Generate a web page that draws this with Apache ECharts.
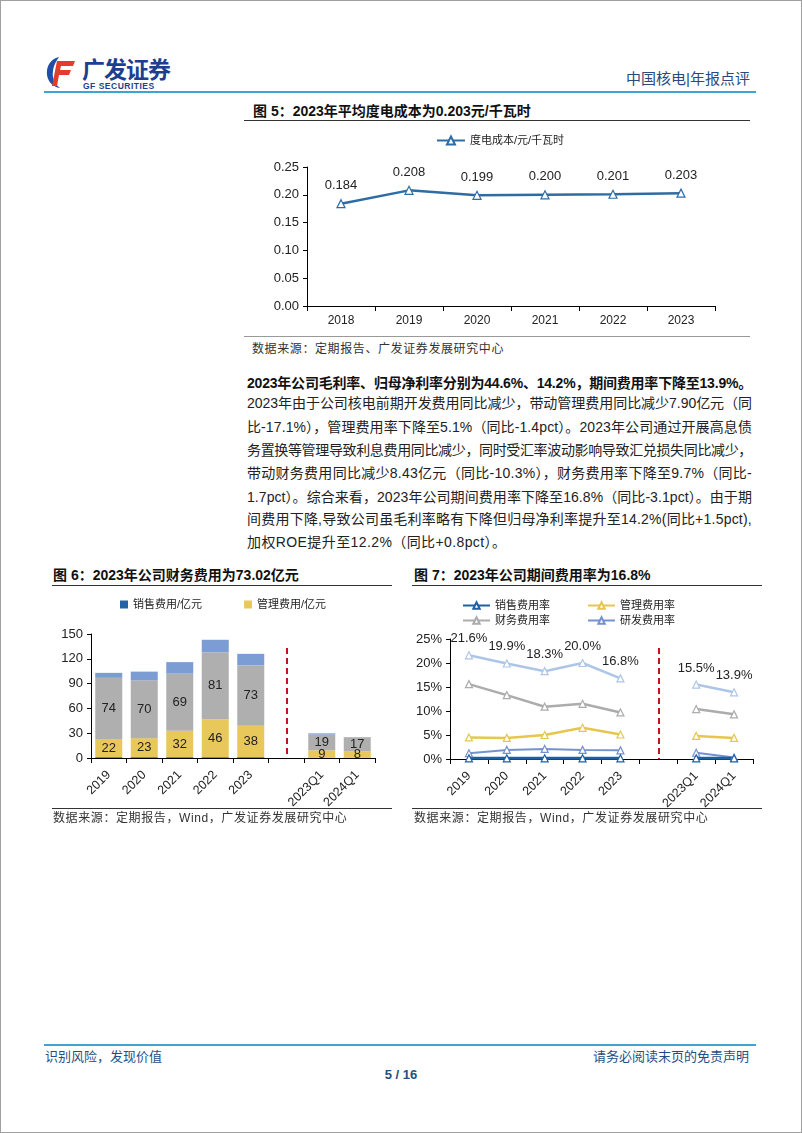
<!DOCTYPE html>
<html><head><meta charset="utf-8">
<script src="https://cdn.jsdelivr.net/npm/echarts@6/dist/echarts.min.js"></script>
<style>
body{margin:0;width:802px;height:1133px;position:relative;background:#fff;font-family:"Liberation Sans","Noto Sans CJK SC",sans-serif;color:#111;overflow:hidden}
.abs{position:absolute;white-space:nowrap}
.frame{position:absolute;left:0;top:0;width:800px;height:1131px;border:1px solid #a0a0a0;pointer-events:none}
.hl{position:absolute;height:0}
.ttl{font-weight:bold;font-size:14px;color:#111;line-height:16px}
.src{font-size:12px;color:#333;line-height:14px;letter-spacing:0.6px}
.pl{position:absolute;left:247px;font-size:14px;line-height:18px;color:#222;white-space:nowrap}
.chart{position:absolute}
</style></head>
<body>
<div class="frame"></div>
<!-- header -->
<svg class="abs" style="left:45px;top:55px" width="32" height="34" viewBox="0 0 32 34">
  <path d="M14 2 C5 4 1 12 2 20 C3 27 8 32 15 33 C9 29 7 22 8 16 C9 9 12 5 14 2 Z" fill="#1e4fa8"/>
  <path d="M12 6 L30 6 L28 11 L16 11 L15 15 L26 15 L24 20 L14 20 L12 31 L7 31 Z" fill="#e53b2a"/>
</svg>
<div class="abs" style="left:82px;top:58px;font-size:23px;font-weight:bold;color:#1d3f8f;letter-spacing:-1px;line-height:24px">广发证券</div>
<div class="abs" style="left:83px;top:82px;font-size:8.5px;font-weight:bold;color:#1d3f8f;letter-spacing:0.5px;line-height:9px">GF SECURITIES</div>
<div class="abs" style="right:52px;top:70px;font-size:15px;color:#2a4a7c;line-height:18px">中国核电|年报点评</div>
<div class="hl" style="left:44px;top:91px;width:712px;border-top:2px solid #3fa3d4"></div>

<!-- figure 5 -->
<div class="abs ttl" style="left:253px;top:103px">图 5：2023年平均度电成本为0.203元/千瓦时</div>
<div class="hl" style="left:244px;top:120px;width:506px;border-top:1px solid #333"></div>
<div id="c5" class="chart" style="left:240px;top:125px;width:520px;height:210px"></div>
<div class="hl" style="left:244px;top:336px;width:506px;border-top:1px solid #999"></div>
<div class="abs src" style="left:252px;top:342px">数据来源：定期报告、广发证券发展研究中心</div>

<!-- paragraph -->
<div class="pl fit" style="top:374px;font-weight:bold;color:#111">2023年公司毛利率、归母净利率分别为44.6%、14.2%，期间费用率下降至13.9%。</div>
<div class="pl fit" style="top:394px">2023年由于公司核电前期开发费用同比减少，带动管理费用同比减少7.90亿元（同</div>
<div class="pl fit" style="top:418px">比-17.1%），管理费用率下降至5.1%（同比-1.4pct）。2023年公司通过开展高息债</div>
<div class="pl fit" style="top:441px">务置换等管理导致利息费用同比减少，同时受汇率波动影响导致汇兑损失同比减少，</div>
<div class="pl fit" style="top:464px">带动财务费用同比减少8.43亿元（同比-10.3%），财务费用率下降至9.7%（同比-</div>
<div class="pl fit" style="top:488px">1.7pct）。综合来看，2023年公司期间费用率下降至16.8%（同比-3.1pct）。由于期</div>
<div class="pl fit" style="top:510px">间费用下降,导致公司虽毛利率略有下降但归母净利率提升至14.2%(同比+1.5pct),</div>
<div class="pl" style="top:533px;letter-spacing:0.4px">加权ROE提升至12.2%（同比+0.8pct）。</div>

<!-- figure 6 -->
<div class="abs ttl" style="left:53px;top:567px">图 6：2023年公司财务费用为73.02亿元</div>
<div class="hl" style="left:52px;top:585px;width:340px;border-top:1px solid #333"></div>
<div id="c6" class="chart" style="left:40px;top:590px;width:360px;height:235px"></div>
<div class="hl" style="left:52px;top:808px;width:340px;border-top:1px solid #333"></div>
<div class="abs src" style="left:53px;top:811px;background:#fff">数据来源：定期报告，Wind，广发证券发展研究中心</div>

<!-- figure 7 -->
<div class="abs ttl" style="left:414px;top:567px">图 7：2023年公司期间费用率为16.8%</div>
<div class="hl" style="left:412px;top:585px;width:350px;border-top:1px solid #333"></div>
<div id="c7" class="chart" style="left:405px;top:590px;width:360px;height:235px"></div>
<div class="hl" style="left:412px;top:808px;width:350px;border-top:1px solid #333"></div>
<div class="abs src" style="left:414px;top:811px;background:#fff">数据来源：定期报告，Wind，广发证券发展研究中心</div>

<!-- footer -->
<div class="hl" style="left:44px;top:1044px;width:712px;border-top:2px solid #3fa3d4"></div>
<div class="abs" style="left:45px;top:1049px;font-size:13px;color:#1f4f86;line-height:15px">识别风险，发现价值</div>
<div class="abs" style="right:53px;top:1049px;font-size:13px;color:#1f4f86;line-height:15px">请务必阅读末页的免责声明</div>
<div class="abs" style="left:0;width:802px;text-align:center;top:1067px;font-size:13px;font-weight:bold;color:#1f4f86;line-height:15px">5 / 16</div>

<script>
// ---------- data ----------
const years5 = ['2018','2019','2020','2021','2022','2023'];
const unitCost = [0.184,0.208,0.199,0.200,0.201,0.203];

const periods = ['2019','2020','2021','2022','2023','','2023Q1','2024Q1'];
const salesExp = [1,1,1,1,1,'-',0.3,0.2];          // 销售费用/亿元
const adminExp = [22,23,32,46,38,'-',9,8];           // 管理费用/亿元
const finExp   = [74,70,69,81,73,'-',19,17];         // 财务费用/亿元
const rdExp    = [6,10.5,14,15,14,'-',1.5,0];        // 研发费用/亿元

const salesRate = [0.15,0.15,0.15,0.15,0.15,'-',0.15,0.15];
const adminRate = [4.5,4.4,5.0,6.5,5.1,'-',4.8,4.4];
const finRate   = [15.6,13.3,10.9,11.5,9.7,'-',10.4,9.3];
const rdRate    = [1.2,1.9,2.1,1.9,1.8,'-',1.3,0.3];
const totalRate = [21.6,19.9,18.3,20.0,16.8,'-',15.5,13.9];

const gapIndex = 5;
const yTicks5 = [0,0.25,0.05];
const yTicks6 = [0,150,30];
const yTicks7 = [0,25,5];

// ---------- paragraph fitting (justify each line to 505px) ----------
document.querySelectorAll('.fit').forEach(el=>{
  const target = 505;
  const n = [...el.textContent].length;
  const w = el.getBoundingClientRect().width;
  el.style.letterSpacing = ((target - w) / n) + 'px';
});

// ---------- styles ----------
const FF = '"Liberation Sans","Noto Sans CJK SC",sans-serif';
const TXT = '#222';
const axisCommon = {
  axisLine:{show:true,lineStyle:{color:'#000',width:1}},
  axisTick:{show:true,length:4,lineStyle:{color:'#000'}},
  splitLine:{show:false}
};

// ---------- figure 5 ----------
const c5 = echarts.init(document.getElementById('c5'));
c5.setOption({
  animation:false,
  textStyle:{fontFamily:FF},
  legend:{top:5,left:'center',itemWidth:28,itemHeight:10,itemGap:10,
    textStyle:{fontSize:11,color:TXT,fontFamily:FF},data:['度电成本/元/千瓦时']},
  grid:{left:67,top:42,width:408,height:139,outerBoundsMode:'none',containLabel:false},
  xAxis:Object.assign({type:'category',data:years5,
    axisLabel:{fontSize:12,color:TXT,margin:9,fontFamily:FF}},axisCommon,
    {axisTick:{show:true,length:5,lineStyle:{color:'#000'}}}),
  yAxis:Object.assign({type:'value',min:yTicks5[0],max:yTicks5[1],interval:yTicks5[2],
    axisLabel:{fontSize:13,color:TXT,margin:8,fontFamily:FF,formatter:v=>v.toFixed(2)}},axisCommon),
  series:[{name:'度电成本/元/千瓦时',type:'line',data:unitCost,
    symbol:'triangle',symbolSize:8,
    lineStyle:{color:'#2e6ca4',width:2.5},
    itemStyle:{color:'#fff',borderColor:'#2e6ca4',borderWidth:1.2},
    label:{show:true,position:'top',distance:7,fontSize:13,color:TXT,fontFamily:FF,formatter:p=>p.value.toFixed(3)}
  }]
});

// ---------- figure 6 ----------
const c6 = echarts.init(document.getElementById('c6'));
const barLbl = {show:true,position:'inside',fontSize:13,color:TXT,fontFamily:FF,
  formatter:p=>(p.value==='-'?'':Math.round(p.value))};
const rotLabel = {fontSize:12.5,color:TXT,rotate:45,margin:15,fontFamily:FF,interval:0};
c6.setOption({
  animation:false,
  textStyle:{fontFamily:FF},
  legend:{top:4,left:75,itemWidth:8,itemHeight:8,itemGap:42,icon:'rect',
    textStyle:{fontSize:11,color:TXT,fontFamily:FF},data:['销售费用/亿元','管理费用/亿元']},
  grid:{left:51,top:44,width:284,height:124,outerBoundsMode:'none',containLabel:false},
  xAxis:Object.assign({type:'category',data:periods,axisLabel:rotLabel},axisCommon,
    {axisTick:{show:true,length:5,lineStyle:{color:'#000'}}}),
  yAxis:Object.assign({type:'value',min:yTicks6[0],max:yTicks6[1],interval:yTicks6[2],
    axisLabel:{fontSize:13,color:TXT,margin:8,fontFamily:FF}},axisCommon),
  series:[
    {name:'销售费用/亿元',type:'bar',stack:'s',barWidth:27,data:salesExp,itemStyle:{color:'#2462a6'},
     markLine:{silent:true,symbol:'none',label:{show:false},animation:false,
       lineStyle:{color:'#c0141c',type:[6,4],width:2},
       data:[[{xAxis:gapIndex,yAxis:133},{xAxis:gapIndex,yAxis:0}]]}},
    {name:'管理费用/亿元',type:'bar',stack:'s',data:adminExp,itemStyle:{color:'#e8c75b'},label:barLbl},
    {name:'财务费用/亿元',type:'bar',stack:'s',data:finExp,itemStyle:{color:'#afafaf'},label:barLbl},
    {name:'研发费用/亿元',type:'bar',stack:'s',data:rdExp,itemStyle:{color:'#7b9dd3'}}
  ]
});

// ---------- figure 7 ----------
const c7 = echarts.init(document.getElementById('c7'));
function ln(name,data,color,w,extra){
  return Object.assign({name,type:'line',data,symbol:'triangle',symbolSize:7,
    lineStyle:{color,width:w},itemStyle:{color:'#fff',borderColor:color,borderWidth:1.2},
    connectNulls:false},extra||{});
}
const lgText = {fontSize:11,color:TXT,fontFamily:FF};
c7.setOption({
  animation:false,
  textStyle:{fontFamily:FF},
  legend:[
    {top:5,left:52,itemWidth:27,itemHeight:8,itemGap:37,textStyle:lgText,data:['销售费用率','管理费用率']},
    {top:20,left:52,itemWidth:27,itemHeight:8,itemGap:37,textStyle:lgText,data:['财务费用率','研发费用率']}
  ],
  grid:{left:45,top:49,width:303,height:120,outerBoundsMode:'none',containLabel:false},
  xAxis:Object.assign({type:'category',data:periods,axisLabel:rotLabel},axisCommon,
    {axisTick:{show:true,length:5,lineStyle:{color:'#000'}}}),
  yAxis:Object.assign({type:'value',min:yTicks7[0],max:yTicks7[1],interval:yTicks7[2],
    axisLabel:{fontSize:13,color:TXT,margin:8,fontFamily:FF,formatter:'{value}%'}},axisCommon),
  series:[
    ln('期间费用率',totalRate,'#adc6e8',2.5,{
      label:{show:true,position:'top',distance:6,fontSize:13,color:TXT,fontFamily:FF,formatter:p=>p.value.toFixed(1)+'%'}}),
    ln('财务费用率',finRate,'#acacac',2.5),
    ln('管理费用率',adminRate,'#e6c74e',2.5),
    ln('研发费用率',rdRate,'#7592cf',2),
    ln('销售费用率',salesRate,'#1f5fa6',3,{
      markLine:{silent:true,symbol:'none',label:{show:false},animation:false,
       lineStyle:{color:'#c0141c',type:[6,4],width:2},
       data:[[{xAxis:gapIndex,yAxis:23.1},{xAxis:gapIndex,yAxis:0}]]}})
  ]
});
</script>
</body></html>
